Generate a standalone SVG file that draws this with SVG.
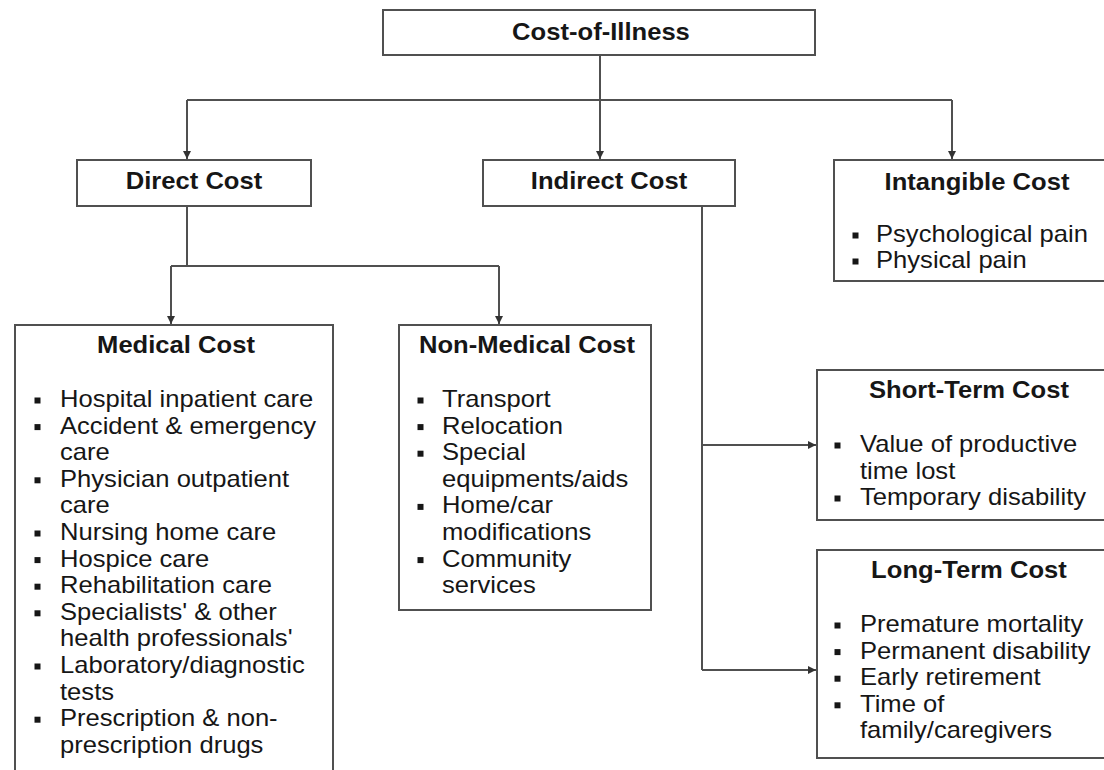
<svg xmlns="http://www.w3.org/2000/svg" width="1104" height="770" viewBox="0 0 1104 770">
<style>
.box{fill:#fff;stroke:#505050;stroke-width:2}
.ln{fill:none;stroke:#505050;stroke-width:2}
.t{font-family:"Liberation Sans",Arial,sans-serif;font-size:23px;fill:#161616}
.b{font-weight:bold;text-anchor:middle}
.bl{fill:#161616}
</style>
<defs>
<marker id="ah" markerUnits="userSpaceOnUse" markerWidth="9" markerHeight="9" refX="8" refY="4.5" orient="auto">
<path d="M0,0.5 L8,4.5 L0,8.5 z" fill="#333"/>
</marker>
</defs>
<rect width="1104" height="770" fill="#fff"/>

<g id="connectors">
<path class="ln" d="M600,55 V159" marker-end="url(#ah)"/>
<path class="ln" d="M187,100 H952"/>
<path class="ln" d="M187,100 V159" marker-end="url(#ah)"/>
<path class="ln" d="M952,100 V159" marker-end="url(#ah)"/>
<path class="ln" d="M187,206 V266"/>
<path class="ln" d="M171,266 H499"/>
<path class="ln" d="M171,266 V324" marker-end="url(#ah)"/>
<path class="ln" d="M499,266 V324" marker-end="url(#ah)"/>
<path class="ln" d="M702,206 V670"/>
<path class="ln" d="M702,445 H816" marker-end="url(#ah)"/>
<path class="ln" d="M702,670 H816" marker-end="url(#ah)"/>
</g>

<g id="cost-of-illness">
<rect class="box" x="383" y="10" width="432" height="45"/>
<g transform="scale(1.113 1)"><text class="t b" x="539.98" y="40">Cost-of-Illness</text></g>
</g>

<g id="direct-cost">
<rect class="box" x="77" y="160" width="234" height="46"/>
<g transform="scale(1.113 1)"><text class="t b" x="174.3" y="189">Direct Cost</text></g>
</g>

<g id="indirect-cost">
<rect class="box" x="483" y="160" width="252" height="46"/>
<g transform="scale(1.113 1)"><text class="t b" x="547.17" y="189">Indirect Cost</text></g>
</g>

<g id="intangible-cost">
<rect class="box" x="834" y="160" width="280" height="121"/>
<rect class="bl" x="852.5" y="232.5" width="6" height="6"/>
<rect class="bl" x="852.5" y="258.5" width="6" height="6"/>
<g transform="scale(1.113 1)">
<text class="t b" x="877.81" y="190">Intangible Cost</text>
<text class="t" x="787.06" y="242">Psychological pain</text>
<text class="t" x="787.06" y="268">Physical pain</text>
</g>
</g>

<g id="medical-cost">
<rect class="box" x="15" y="325" width="318" height="460"/>
<rect class="bl" x="34.5" y="397.5" width="6" height="6"/>
<rect class="bl" x="34.5" y="424.1" width="6" height="6"/>
<rect class="bl" x="34.5" y="477.3" width="6" height="6"/>
<rect class="bl" x="34.5" y="530.5" width="6" height="6"/>
<rect class="bl" x="34.5" y="557.1" width="6" height="6"/>
<rect class="bl" x="34.5" y="583.7" width="6" height="6"/>
<rect class="bl" x="34.5" y="610.3" width="6" height="6"/>
<rect class="bl" x="34.5" y="663.5" width="6" height="6"/>
<rect class="bl" x="34.5" y="716.7" width="6" height="6"/>
<g transform="scale(1.113 1)">
<text class="t b" x="158.13" y="353">Medical Cost</text>
<text class="t" x="53.91" y="407">Hospital inpatient care</text>
<text class="t" x="53.91" y="433.6">Accident &amp; emergency</text>
<text class="t" x="53.91" y="460.2">care</text>
<text class="t" x="53.91" y="486.8">Physician outpatient</text>
<text class="t" x="53.91" y="513.4">care</text>
<text class="t" x="53.91" y="540">Nursing home care</text>
<text class="t" x="53.91" y="566.6">Hospice care</text>
<text class="t" x="53.91" y="593.2">Rehabilitation care</text>
<text class="t" x="53.91" y="619.8">Specialists' &amp; other</text>
<text class="t" x="53.91" y="646.4">health professionals'</text>
<text class="t" x="53.91" y="673">Laboratory/diagnostic</text>
<text class="t" x="53.91" y="699.6">tests</text>
<text class="t" x="53.91" y="726.2">Prescription &amp; non-</text>
<text class="t" x="53.91" y="752.8">prescription drugs</text>
</g>
</g>

<g id="non-medical-cost">
<rect class="box" x="399" y="325" width="252" height="285"/>
<rect class="bl" x="417.5" y="397.5" width="6" height="6"/>
<rect class="bl" x="417.5" y="424.1" width="6" height="6"/>
<rect class="bl" x="417.5" y="450.7" width="6" height="6"/>
<rect class="bl" x="417.5" y="503.9" width="6" height="6"/>
<rect class="bl" x="417.5" y="557.1" width="6" height="6"/>
<g transform="scale(1.113 1)">
<text class="t b" x="473.49" y="353">Non-Medical Cost</text>
<text class="t" x="397.12" y="407">Transport</text>
<text class="t" x="397.12" y="433.6">Relocation</text>
<text class="t" x="397.12" y="460.2">Special</text>
<text class="t" x="397.12" y="486.8">equipments/aids</text>
<text class="t" x="397.12" y="513.4">Home/car</text>
<text class="t" x="397.12" y="540">modifications</text>
<text class="t" x="397.12" y="566.6">Community</text>
<text class="t" x="397.12" y="593.2">services</text>
</g>
</g>

<g id="short-term-cost">
<rect class="box" x="817" y="370" width="300" height="150"/>
<rect class="bl" x="834.5" y="442.5" width="6" height="6"/>
<rect class="bl" x="834.5" y="495.5" width="6" height="6"/>
<g transform="scale(1.113 1)">
<text class="t b" x="870.62" y="398">Short-Term Cost</text>
<text class="t" x="772.69" y="452">Value of productive</text>
<text class="t" x="772.69" y="478.6">time lost</text>
<text class="t" x="772.69" y="505">Temporary disability</text>
</g>
</g>

<g id="long-term-cost">
<rect class="box" x="817" y="550" width="300" height="208"/>
<rect class="bl" x="834.5" y="622.5" width="6" height="6"/>
<rect class="bl" x="834.5" y="649.1" width="6" height="6"/>
<rect class="bl" x="834.5" y="675.7" width="6" height="6"/>
<rect class="bl" x="834.5" y="702.3" width="6" height="6"/>
<g transform="scale(1.113 1)">
<text class="t b" x="870.62" y="578">Long-Term Cost</text>
<text class="t" x="772.69" y="632">Premature mortality</text>
<text class="t" x="772.69" y="658.6">Permanent disability</text>
<text class="t" x="772.69" y="685.2">Early retirement</text>
<text class="t" x="772.69" y="711.8">Time of</text>
<text class="t" x="772.69" y="738.4">family/caregivers</text>
</g>
</g>
</svg>
